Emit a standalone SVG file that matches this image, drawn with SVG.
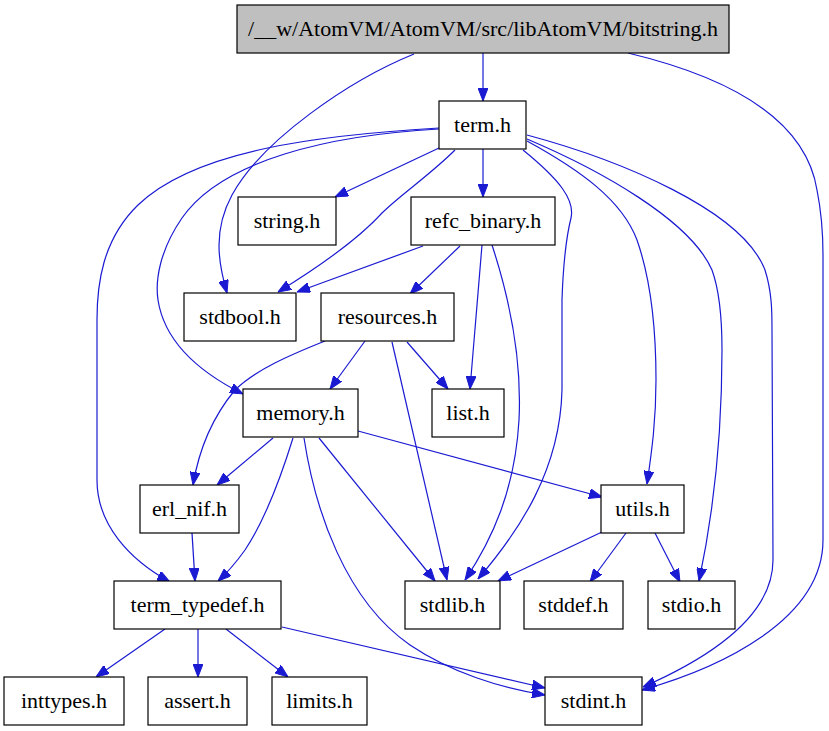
<svg xmlns="http://www.w3.org/2000/svg" width="829" height="731" viewBox="0 0 829 731">
<style>
.n rect{fill:#fff;stroke:#000;stroke-width:1.2}
.n.root rect{fill:#bfbfbf}
.n text{font-family:"Liberation Serif","Times New Roman",serif;font-size:22px;text-anchor:middle;fill:#000}
.e path{fill:none;stroke:#1a1ad2;stroke-width:1.2;marker-end:url(#ah)}
</style>
<defs>
<marker id="ah" viewBox="0 0 13 10" refX="13" refY="5" markerWidth="13" markerHeight="10" markerUnits="userSpaceOnUse" orient="auto">
<path d="M0,0 L13,5 L0,10 z" fill="#1a1ad2" stroke="#1a1ad2"/>
</marker>
</defs>
<rect width="829" height="731" fill="#fff"/>
<g id="edges" class="e">
<path d="M483,53 L483,101"/>
<path d="M414,54 C350,80 262,140 232,195 C213,230 218,262 227,293"/>
<path d="M628,53 C720,75 805,115 817,190 C822,215 823,232 823,255 L823,540 C823,620 720,668 642,690"/>
<path d="M439,148 L335,197"/>
<path d="M483,149 L483,197"/>
<path d="M455,150 C430,175 400,195 382,213 C362,235 330,260 278,292"/>
<path d="M439,129 C330,135 222,160 182,218 C160,250 155,280 158,300 C165,345 205,375 243,394"/>
<path d="M439,128 C320,135 195,150 138,205 C102,240 97,285 97,320 L97,480 C97,525 130,560 170,582"/>
<path d="M523,150 C560,180 575,200 571,218 C565,242 563,270 562,300 L562,390 C560,470 520,530 478,579"/>
<path d="M527,141 C580,170 622,200 637,240 C651,280 656,330 656,380 C656,420 652,450 647,484"/>
<path d="M527,139 C600,170 690,220 712,270 C720,292 722,320 722,350 C722,440 712,520 699,581"/>
<path d="M527,135 C620,160 742,210 765,270 C772,292 772,312 772,330 L773,560 C773,620 700,662 643,687"/>
<path d="M423,246 L297,292"/>
<path d="M460,246 L410,294"/>
<path d="M482,245 L470,389"/>
<path d="M492,245 C510,300 522,360 519,420 C515,490 492,540 465,580"/>
<path d="M365,341 L330,389"/>
<path d="M325,341 C290,355 255,370 235,390 C210,420 198,455 193,485"/>
<path d="M407,342 L448,389"/>
<path d="M392,342 L447,580"/>
<path d="M273,438 L217,485"/>
<path d="M293,438 C280,480 265,520 245,550 C235,564 228,572 218,581"/>
<path d="M319,438 L435,581"/>
<path d="M304,438 C315,510 345,600 410,645 C450,672 500,688 545,695"/>
<path d="M358,431 L602,497"/>
<path d="M192,533 L195,581"/>
<path d="M602,532 L498,581"/>
<path d="M626,533 L590,582"/>
<path d="M655,533 L680,582"/>
<path d="M165,629 L96,677"/>
<path d="M198,629 L198,677"/>
<path d="M226,629 L288,677"/>
<path d="M282,627 L545,688"/>
</g>
<g id="n_bitstring" class="n root"><rect x="237" y="5" width="492" height="48"/><text x="483" y="36">/__w/AtomVM/AtomVM/src/libAtomVM/bitstring.h</text></g>
<g id="n_term" class="n"><rect x="439" y="101" width="87" height="48"/><text x="482.5" y="132">term.h</text></g>
<g id="n_string" class="n"><rect x="238" y="197" width="98" height="48"/><text x="287" y="228">string.h</text></g>
<g id="n_refc_binary" class="n"><rect x="411" y="197" width="144" height="48"/><text x="483" y="228">refc_binary.h</text></g>
<g id="n_stdbool" class="n"><rect x="184" y="293" width="112" height="48"/><text x="240" y="324">stdbool.h</text></g>
<g id="n_resources" class="n"><rect x="321" y="293" width="133" height="48"/><text x="387.5" y="324">resources.h</text></g>
<g id="n_memory" class="n"><rect x="243" y="389" width="115" height="48"/><text x="300.5" y="420">memory.h</text></g>
<g id="n_list" class="n"><rect x="432" y="389" width="72" height="48"/><text x="468" y="420">list.h</text></g>
<g id="n_erl_nif" class="n"><rect x="140" y="485" width="99" height="48"/><text x="189.5" y="516">erl_nif.h</text></g>
<g id="n_utils" class="n"><rect x="601" y="485" width="83" height="48"/><text x="642.5" y="516">utils.h</text></g>
<g id="n_term_typedef" class="n"><rect x="114" y="581" width="167" height="48"/><text x="197.5" y="612">term_typedef.h</text></g>
<g id="n_stdlib" class="n"><rect x="405" y="581" width="95" height="48"/><text x="452.5" y="612">stdlib.h</text></g>
<g id="n_stddef" class="n"><rect x="524" y="581" width="99" height="48"/><text x="573.5" y="612">stddef.h</text></g>
<g id="n_stdio" class="n"><rect x="648" y="581" width="87" height="48"/><text x="691.5" y="612">stdio.h</text></g>
<g id="n_inttypes" class="n"><rect x="4" y="677" width="120" height="48"/><text x="64" y="708">inttypes.h</text></g>
<g id="n_assert" class="n"><rect x="148" y="677" width="99" height="48"/><text x="197.5" y="708">assert.h</text></g>
<g id="n_limits" class="n"><rect x="272" y="677" width="95" height="48"/><text x="319.5" y="708">limits.h</text></g>
<g id="n_stdint" class="n"><rect x="545" y="677" width="97" height="48"/><text x="593.5" y="708">stdint.h</text></g>
</svg>
